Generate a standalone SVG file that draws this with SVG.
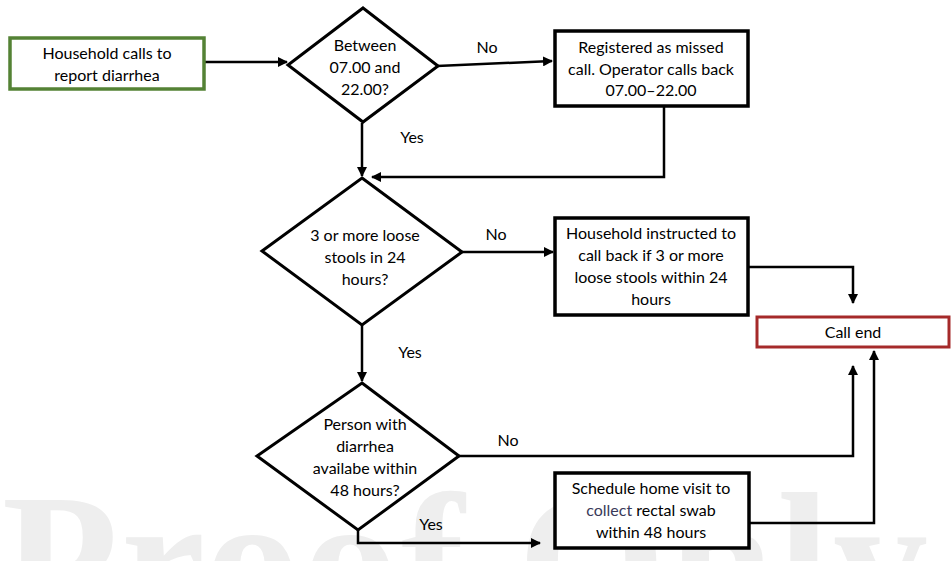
<svg xmlns="http://www.w3.org/2000/svg" width="951" height="561" viewBox="0 0 951 561">
<defs>
<marker id="ah" viewBox="0 0 10 10" refX="9" refY="5" markerWidth="4" markerHeight="4" orient="auto" markerUnits="strokeWidth">
<path d="M0,0 L10,5 L0,10 z" fill="#000"/>
</marker>
<style>
text{font-family:"Lato","Liberation Sans",sans-serif;font-size:16px;fill:#000;text-anchor:middle}
.box{fill:#fff;stroke:#000;stroke-width:3.5}
.dia{fill:#fff;stroke:#000;stroke-width:3}
.con{fill:none;stroke:#000;stroke-width:2.5}
.arr{marker-end:url(#ah)}
.lbl{font-size:16px}
.wm{font-family:"Liberation Serif",serif;font-weight:bold;font-size:190px;fill:#eeeeee;text-anchor:start}
</style>
</defs>
<rect width="951" height="561" fill="#fff"/>
<text class="wm" x="2" y="625" letter-spacing="3">Proof Only</text>

<g id="connectors">
<path class="con arr" d="M204,62 L287,62"/>
<path class="con arr" d="M437,66 L552,61"/>
<path class="con arr" d="M362,123 L362,176"/>
<path class="con arr" d="M664,106 L664,177 L372,177"/>
<path class="con arr" d="M462,252 L553,252"/>
<path class="con arr" d="M749,267 L853,267 L853,303"/>
<path class="con arr" d="M362,325 L362,381"/>
<path class="con arr" d="M459,456 L853,456 L853,366"/>
<path class="con arr" d="M358,530 L358,543 L540,543"/>
<path class="con arr" d="M749,523 L874,523 L874,351"/>
<text class="lbl" x="487" y="53">No</text>
<text class="lbl" x="412" y="143">Yes</text>
<text class="lbl" x="496" y="240">No</text>
<text class="lbl" x="410" y="358">Yes</text>
<text class="lbl" x="508" y="446">No</text>
<text class="lbl" x="431" y="530">Yes</text>
</g>

<g id="start">
<rect x="10" y="38" width="194" height="51" fill="#fff" stroke="#548235" stroke-width="3.5"/>
<text x="107" y="59">Household calls to</text>
<text x="107" y="81">report diarrhea</text>
</g>

<g id="d1">
<polygon class="dia" points="363,8 438,66 363,122 288,65"/>
<text x="365" y="51">Between</text>
<text x="365" y="73">07.00 and</text>
<text x="365" y="95">22.00?</text>
</g>

<g id="missed">
<rect class="box" x="555" y="31" width="193" height="75"/>
<text x="651" y="53">Registered as missed</text>
<text x="651" y="75">call. Operator calls back</text>
<text x="651" y="96">07.00–22.00</text>
</g>

<g id="d2">
<polygon class="dia" points="362,178 462,252 362,325 262,251"/>
<text x="365" y="241">3 or more loose</text>
<text x="365" y="263">stools in 24</text>
<text x="365" y="285">hours?</text>
</g>

<g id="instructed">
<rect class="box" x="555" y="218" width="193" height="97"/>
<text x="651" y="239">Household instructed to</text>
<text x="651" y="261">call back if 3 or more</text>
<text x="651" y="283">loose stools within 24</text>
<text x="651" y="305">hours</text>
</g>

<g id="callend">
<rect x="757" y="317" width="192" height="30" fill="#fff" stroke="#a52a2a" stroke-width="3"/>
<text x="853" y="338">Call end</text>
</g>

<g id="d3">
<polygon class="dia" points="362,383 459,456 358,530 257,456"/>
<text x="365" y="430">Person with</text>
<text x="365" y="452">diarrhea</text>
<text x="365" y="474">availabe within</text>
<text x="365" y="496">48 hours?</text>
</g>

<g id="schedule">
<rect class="box" x="555" y="473" width="194" height="75"/>
<text x="651" y="494">Schedule home visit to</text>
<text x="651" y="516"><tspan fill="#3a3a5a">collect</tspan> rectal swab</text>
<text x="651" y="538">within 48 hours</text>
</g>
</svg>
